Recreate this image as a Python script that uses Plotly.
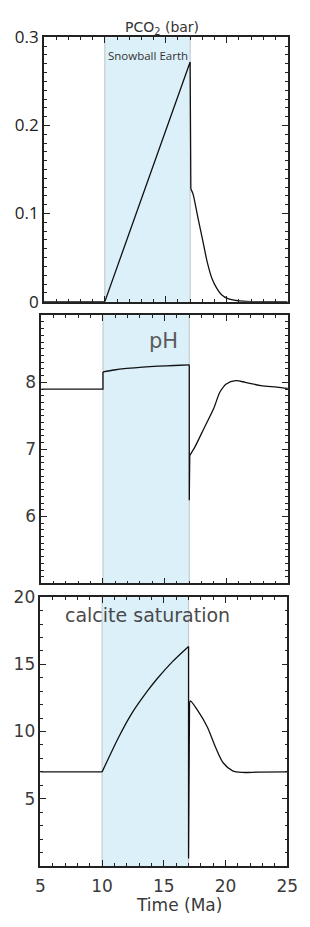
import plotly.graph_objects as go

W, H = 310, 927

# ---------------- data ----------------
snow_start, snow_end = 10, 17

# PCO2 (bar): pre-snowball + snowball ramp + drop, then recovery
t_pco2_a = [5, 10, 17, 17.0, 17.06]
pco2_a = [0, 0, 0.272, 0.272, 0.128]
t_pco2_b = [17.06, 17.24, 17.63, 18.02, 18.41, 18.80, 19.19, 19.58, 20.1, 20.88, 22, 25]
pco2_b = [0.128, 0.122, 0.096, 0.0705, 0.0446, 0.026, 0.015, 0.0078, 0.0033, 0.001, 0.0, 0.0]

# pH
t_ph_a = [5, 10, 10]
ph_a = [7.90, 7.90, 8.155]
t_ph_b = [10, 10.9, 11.92, 13.21, 14.49, 15.77, 17.0]
ph_b = [8.155, 8.184, 8.207, 8.228, 8.242, 8.251, 8.261]
t_ph_c = [17.0, 17.0, 17.04]
ph_c = [8.261, 6.24, 6.91]
t_ph_d = [17.04, 17.44, 18.21, 18.98, 19.49, 20.0, 20.77, 21.54, 22.82, 24.1, 25]
ph_d = [6.91, 7.03, 7.32, 7.61, 7.855, 7.976, 8.024, 8.0, 7.95, 7.93, 7.91]

# calcite saturation
t_cal_a = [5, 10]
cal_a = [7.0, 7.0]
t_cal_b = [10, 11.35, 12.37, 13.66, 14.42, 15.7, 17.0]
cal_b = [7.0, 9.6, 11.3, 13.0, 13.89, 15.2, 16.33]
t_cal_c = [17.0, 17.0, 17.08]
cal_c = [16.33, 0.56, 12.2]
t_cal_d = [17.08, 17.17, 17.75, 18.52, 19.16, 19.8, 20.57, 21.34, 22.6, 25]
cal_d = [12.2, 12.27, 11.55, 10.34, 8.89, 7.68, 7.08, 6.96, 6.98, 7.0]

x_ticks = [5, 10, 15, 20, 25]
pco2_ticks = [0, 0.1, 0.2, 0.3]
pco2_labels = ["0", "0.1", "0.2", "0.3"]
ph_ticks = [6, 7, 8]
ph_labels = ["6", "7", "8"]
cal_ticks = [5, 10, 15, 20]
cal_labels = ["5", "10", "15", "20"]

# ---------------- style ----------------
AX = "#222222"
TXT = "#3a3a3a"
GEO = "DejaVu Sans"
SANS = "Open Sans"
SHADE = "#dbf0f9"
EDGE = "#c4ccd0"
LINE = dict(color="#111", width=1.3)

def px(x):
    return x / W

def py(y):
    return 1 - y / H

fig = go.Figure()

def add(x, y, xa, ya, smooth):
    ln = dict(LINE)
    if smooth:
        ln.update(shape="spline", smoothing=0.8)
    fig.add_trace(go.Scatter(x=x, y=y, mode="lines", line=ln, xaxis=xa, yaxis=ya,
                             showlegend=False, hoverinfo="skip"))

add(t_pco2_a, pco2_a, "x", "y", False)
add(t_pco2_b, pco2_b, "x", "y", True)
add(t_ph_a, ph_a, "x2", "y2", False)
add(t_ph_b, ph_b, "x2", "y2", True)
add(t_ph_c, ph_c, "x2", "y2", False)
add(t_ph_d, ph_d, "x2", "y2", True)
add(t_cal_a, cal_a, "x3", "y3", False)
add(t_cal_b, cal_b, "x3", "y3", True)
add(t_cal_c, cal_c, "x3", "y3", False)
add(t_cal_d, cal_d, "x3", "y3", True)

def xax(dom, anchor, labels):
    return dict(domain=dom, anchor=anchor, range=[5, 25], tickvals=x_ticks,
                ticktext=[str(v) for v in x_ticks], showticklabels=labels,
                ticks="inside", ticklen=6, tickwidth=1.2, tickcolor=AX,
                minor=dict(dtick=1, ticks="inside", ticklen=3, tickwidth=1, tickcolor=AX),
                showline=True, linecolor=AX, linewidth=1.5, mirror="allticks",
                showgrid=False, zeroline=False, ticklabeloverflow="allow",
                ticklabelstandoff=4,
                tickfont=dict(family=GEO, size=17, color=TXT))

def yax(dom, anchor, rng, tv, tt, mdt, font):
    return dict(domain=dom, anchor=anchor, range=rng, tickvals=tv, ticktext=tt,
                ticks="inside", ticklen=6, tickwidth=1.2, tickcolor=AX,
                minor=dict(dtick=mdt, ticks="inside", ticklen=3, tickwidth=1, tickcolor=AX),
                showline=True, linecolor=AX, linewidth=1.5, mirror="allticks",
                showgrid=False, zeroline=False, ticklabeloverflow="allow", tickfont=font)

fig.update_layout(
    width=W, height=H, margin=dict(l=0, r=0, t=0, b=0),
    paper_bgcolor="white", plot_bgcolor="white",
    xaxis=xax([px(41), px(298)], "y", False),
    yaxis=yax([py(297), py(26)], "x", [0, 0.3], pco2_ticks, pco2_labels, 0.01,
              dict(family=SANS, size=17, color="#222")),
    xaxis2=xax([px(38.3), px(298.3)], "y2", False),
    yaxis2=yax([py(586), py(311)], "x2", [5, 9], ph_ticks, ph_labels, 0.1,
               dict(family=GEO, size=17, color=TXT)),
    xaxis3=xax([px(37.3), px(297.7)], "y3", True),
    yaxis3=yax([py(875.7), py(600)], "x3", [0, 20], cal_ticks, cal_labels, 1,
               dict(family=GEO, size=17, color=TXT)),
)

shapes = []
for xr, yr in [("x", "y"), ("x2", "y2"), ("x3", "y3")]:
    shapes.append(dict(type="rect", xref=xr, yref=yr + " domain", x0=snow_start, x1=snow_end,
                       y0=0, y1=1, fillcolor=SHADE, line=dict(width=0), layer="below"))
    for xv in (snow_start, snow_end):
        shapes.append(dict(type="line", xref=xr, yref=yr + " domain", x0=xv, x1=xv, y0=0, y1=1,
                           line=dict(color=EDGE, width=1.2), layer="below"))
fig.update_layout(shapes=shapes)

ann = [
    dict(text="PCO<sub>2</sub> (bar)", x=px(166), y=py(16), font=dict(family=GEO, size=14, color="#333")),
    dict(text="Snowball Earth", x=px(151), y=py(45), font=dict(family=SANS, size=11.5, color="#333")),
    dict(text="pH", x=px(167), y=py(337), font=dict(family=GEO, size=21, color="#5a5a5a")),
    dict(text="calcite saturation", x=px(150.5), y=py(618), font=dict(family=GEO, size=19, color="#4a4a4a")),
    dict(text="Time (Ma)", x=px(183), y=py(916), font=dict(family=GEO, size=17, color=TXT)),
]
for a in ann:
    a.update(xref="paper", yref="paper", showarrow=False, xanchor="center", yanchor="middle")
fig.update_layout(annotations=ann)

fig.write_html("out.html", config={"displayModeBar": False},
               post_script="document.body.style.margin='0';document.body.style.overflow='hidden';")
